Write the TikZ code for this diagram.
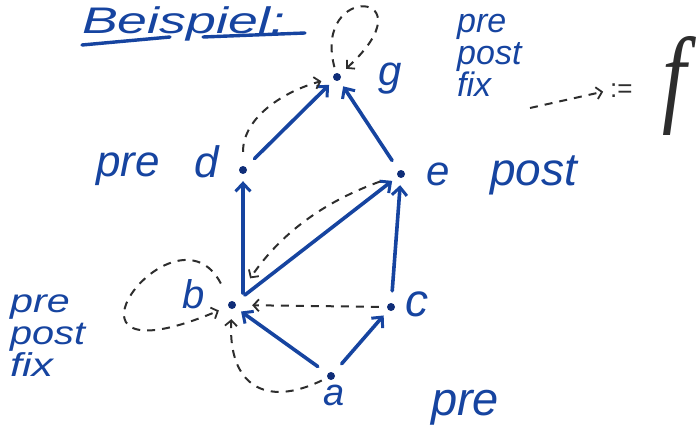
\documentclass[tikz,border=0pt]{standalone}
\usepackage{fontspec}
\setmainfont{Liberation Sans}
\newfontfamily\serifit{Liberation Serif}
\usetikzlibrary{arrows.meta}
\definecolor{ink}{RGB}{22,68,160}
\definecolor{inkdot}{RGB}{15,45,120}
\definecolor{pencil}{RGB}{45,45,45}
\newcommand{\fsz}[1]{\fontsize{#1}{#1}\selectfont\itshape}
\begin{document}
\begin{tikzpicture}[x=1pt,y=1pt,
  dot/.style={circle,fill=inkdot,inner sep=0pt,minimum size=8pt},
  lbl/.style={text=ink,inner sep=0pt,anchor=base west},
  stack/.style={text=ink,inner sep=0pt,anchor=north west,align=left},
  solidarrow/.style={draw=ink,line width=3.6pt,line cap=round,
    -{Straight Barb[length=8pt,width=15pt,line width=3pt]},
    shorten <=12pt,shorten >=7pt},
  dasharrow/.style={draw=pencil,line width=2pt,dash pattern=on 8pt off 7pt,
    -{Straight Barb[length=5.5pt,width=12pt,line width=1.8pt]}},
]
\useasboundingbox (0,0) rectangle (700,-441);

% heading
\node[lbl,font=\fsz{37}] (title) at (82,-34) {\scalebox{1.45}[1]{Beispiel:}};
\draw[ink,line width=3.4pt,line cap=round] (82,-45) -- (170,-37);
\draw[ink,line width=3.4pt,line cap=round] (203,-37) -- (305,-33);

% vertices
\node[dot] (g) at (337,-77) {};
\node[dot] (d) at (243,-170) {};
\node[dot] (e) at (401,-174) {};
\node[dot] (b) at (232,-305) {};
\node[dot] (c) at (391,-307) {};
\node[dot] (a) at (331,-376) {};

% vertex labels
\node[lbl,font=\fsz{42}] (lg) at (378,-85) {g};
\node[lbl,font=\fsz{44}] (ld) at (194,-177) {d};
\node[lbl,font=\fsz{42}] (le) at (426,-185) {e};
\node[lbl,font=\fsz{40}] (lb) at (182,-308) {b};
\node[lbl,font=\fsz{46}] (lc) at (405,-316) {c};
\node[lbl,font=\fsz{38}] (la) at (323,-405) {a};

% annotations
\node[lbl,font=\fsz{44}] (pred) at (96,-176) {pre};
\node[lbl,font=\fsz{46}] (poste) at (490,-185) {post};
\node[lbl,font=\fsz{47}] (prea) at (431,-415) {pre};
\node[stack,font={\fontsize{34}{32}\selectfont\itshape}] (fixg) at (457,-14) {pre\\post\\fix};
\node[stack,font={\fontsize{33}{32}\selectfont\itshape}] (fixb) at (10,-295) {\scalebox{1.25}[1]{pre}\\\scalebox{1.2}[1]{post}\\\scalebox{1.3}[1]{fix}};

% := f
\node[inner sep=0pt,anchor=base west,text=pencil,font=\fontsize{26}{26}\selectfont] (assign) at (610,-97) {:=};
\node[inner sep=0pt,text=pencil] (f) at (674,-86) {\scalebox{0.8}[1]{\serifit\fontsize{108}{108}\selectfont\itshape f}};
\coordinate (ds) at (530,-108);
\draw[dasharrow,shorten >=7pt] (ds) -- (assign.west);

% tree edges (solid)
\draw[solidarrow] (d) -- (g);
\draw[solidarrow] (e) -- (g);
\draw[solidarrow] (b.center -| d.center) -- (d);
\draw[solidarrow] (b) -- (e);
\draw[solidarrow] (c) -- (e);
\draw[solidarrow] (a) -- (b);
\draw[solidarrow] (a) -- (c);

% dashed edges
\draw[dasharrow,shorten <=14pt,shorten >=12pt] (d) to[out=90,in=195] (g);
\draw[dasharrow,shorten <=6pt,shorten >=8pt] (g) .. controls (312,18) and (432,10) .. (g);
\draw[dasharrow,shorten <=18pt,shorten >=28pt] (e) to[bend right=18] (b);
\draw[dasharrow,shorten <=8pt,shorten >=16pt] (c) -- (b);
\draw[dasharrow,shorten <=6pt,shorten >=10pt] (a) .. controls (265,-408) and (228,-385) .. (b);
\draw[dasharrow,shorten <=20pt,shorten >=10pt] (b) .. controls (175,-195) and (30,-390) .. (b);
\end{tikzpicture}
\end{document}
